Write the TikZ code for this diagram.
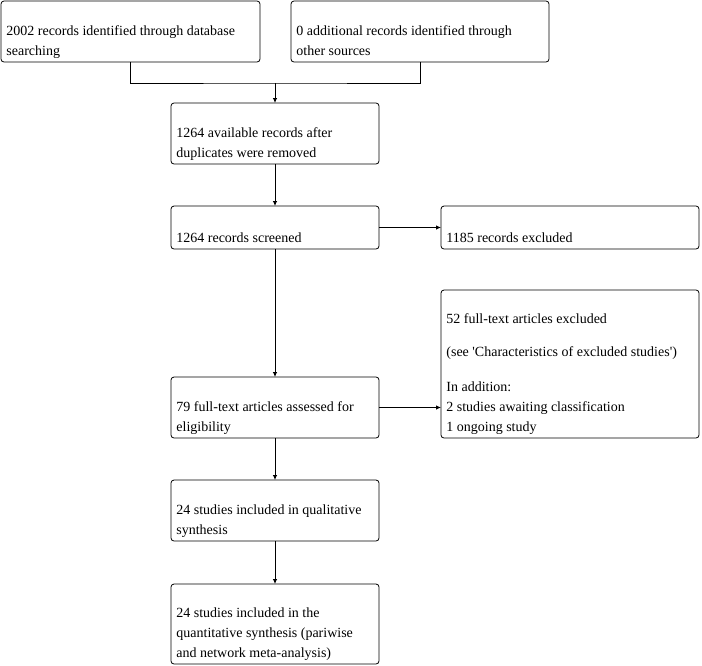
\documentclass[tikz,border=0pt]{standalone}
\usepackage{fontspec}
\setmainfont{Liberation Serif}
\usetikzlibrary{arrows.meta, positioning}
\tikzset{
    flowchart/.style={>={Latex[length=5pt,width=4.5pt]}, line width=0.8pt, x=1pt, y=-1pt},
    box/.style={draw, rounded corners=3pt, anchor=north west, inner sep=0pt, outer sep=0pt},
    % text sits at the bottom left of each box
    boxtext/.style={anchor=south west, inner sep=0pt, text depth=0pt, align=left,
        xshift=5pt, yshift=6pt, font=\fontsize{14}{20}\selectfont},
}

\begin{document}
\begin{tikzpicture}[flowchart]
    \useasboundingbox (0,0) rectangle (702,665);

    \node[box, minimum width=259pt, minimum height=61pt,
        label={[boxtext]south west:2002 records identified through database\\searching}] (ident) at (1,1) {};
    \node[box, minimum width=258pt, minimum height=61pt,
        label={[boxtext]south west:0 additional records identified through\\other sources}] (other) at (291,1) {};

    \node[box, minimum width=208pt, minimum height=61pt,
        label={[boxtext]south west:1264 available records after\\duplicates were removed}] (dedup) at (171,103) {};
    \node[box, minimum width=208pt, minimum height=43pt,
        label={[boxtext]south west:1264 records screened}] (screen) at (171,206) {};
    \node[box, minimum width=258pt, minimum height=43pt,
        label={[boxtext]south west:1185 records excluded}] (excl) at (441,206) {};

    \node[box, minimum width=258pt, minimum height=148pt,
        label={[boxtext]south west:52 full-text articles excluded\\[13pt]
            (see \textquotesingle Characteristics of excluded studies\textquotesingle)\\[15pt]
            In addition:\\2 studies awaiting classification\\1 ongoing study}] (fullexcl) at (441,290) {};
    \node[box, minimum width=208pt, minimum height=61pt,
        label={[boxtext]south west:79 full-text articles assessed for\\eligibility}] (full) at (171,377) {};

    \node[box, minimum width=208pt, minimum height=61pt,
        label={[boxtext]south west:24 studies included in qualitative\\synthesis}] (qual) at (171,480) {};
    \node[box, minimum width=208pt, minimum height=80pt,
        label={[boxtext]south west:24 studies included in the\\quantitative synthesis (pariwise\\and network meta-analysis)}] (quant) at (171,584) {};

    \coordinate (merge) at (275,83);

    \draw (ident.south) |- (merge) -| (other.south);
    \draw[->] (merge) -- (dedup);
    \draw[->] (dedup) -- (screen);
    \draw[->] (screen) -- (excl);
    \draw[->] (screen) -- (full);
    \draw[->] (full.east) -- (full.east -| fullexcl.west);
    \draw[->] (full) -- (qual);
    \draw[->] (qual) -- (quant);
\end{tikzpicture}
\end{document}
